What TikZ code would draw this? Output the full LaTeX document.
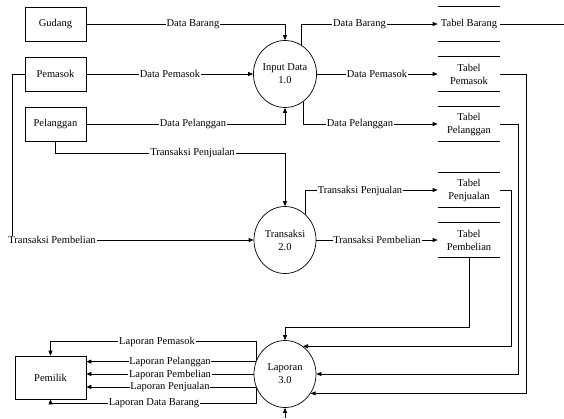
\documentclass[tikz,border=0pt]{standalone}
\usepackage{fontspec}
\setmainfont{Liberation Serif}
\usetikzlibrary{shapes.geometric,arrows.meta}
\begin{document}
\begin{tikzpicture}[x=1pt,y=-1pt,
  line width=0.7pt,
  txt/.style={font=\fontsize{10.5}{13}\selectfont},
  ent/.style={txt, draw, minimum width=61pt, minimum height=34pt, inner sep=0pt},
  proc/.style={txt, draw, ellipse, minimum width=62pt, minimum height=67pt, inner sep=0pt, align=center},
  store/.style={txt, minimum width=62pt, minimum height=34pt, inner sep=0pt, align=center},
  lbl/.style={txt, fill=white, inner sep=0.8pt},
  arr/.style={-{Triangle[length=5pt,width=4pt]}}]
\useasboundingbox (0,0) rectangle (564,418);

% external entities
\node[ent] (gudang) at (55.5,24) {Gudang};
\node[ent] (pemasok) at (55.5,74) {Pemasok};
\node[ent] (pelanggan) at (55.5,124) {Pelanggan};
\node[ent, minimum width=71pt, minimum height=43pt] (pemilik) at (50.5,377.5) {Pemilik};

% processes
\node[proc] (input) at (285,74) {Input Data\\1.0};
\node[proc] (transaksi) at (285,240) {Transaksi\\2.0};
\node[proc] (laporan) at (285,374) {Laporan\\3.0};

% data stores
\node[store] (tbarang) at (469,24) {Tabel Barang};
\node[store] (tpemasok) at (469,74) {Tabel\\Pemasok};
\node[store] (tpelanggan) at (469,124) {Tabel\\Pelanggan};
\node[store] (tpenjualan) at (469,190) {Tabel\\Penjualan};
\node[store] (tpembelian) at (469,240) {Tabel\\Pembelian};
\foreach \s in {tbarang,tpemasok,tpelanggan,tpenjualan,tpembelian}
  \draw (\s.north west) -- (\s.north east) (\s.south west) -- (\s.south east);

\coordinate (edgeR) at (564,24);
\coordinate (edgeB) at (285,418);

% flows into Input Data
\draw[arr] (gudang.east) -| (input.north);
\node[lbl] at (193,24) {Data Barang};
\draw[arr] (pemasok.east) -- (input.west);
\node[lbl] at (170,74) {Data Pemasok};
\draw[arr] (pelanggan.east) -| (input.south);
\node[lbl] at (193,124) {Data Pelanggan};

% flows out of Input Data
\draw[arr] (input.60) |- (tbarang.west);
\node[lbl] at (359.5,24) {Data Barang};
\draw[arr] (input.east) -- (tpemasok.west);
\node[lbl] at (377,74) {Data Pemasok};
\draw[arr] (input.-56) |- (tpelanggan.west);
\node[lbl] at (360,124) {Data Pelanggan};
\draw (tbarang.east) -- (edgeR);

% flows into Transaksi
\draw[arr] (pelanggan.south) -- ++(0,12) -| (transaksi.north);
\node[lbl] at (192.5,153) {Transaksi Penjualan};
\draw[arr] (pemasok.west) -- ++(-12,0) |- (transaksi.west);
\node[lbl] at (52,240) {Transaksi Pembelian};

% flows out of Transaksi
\draw[arr] (transaksi.52) |- (tpenjualan.west);
\node[lbl] at (360,191) {Transaksi Penjualan};
\draw[arr] (transaksi.east) -- (tpembelian.west);
\node[lbl] at (377,240) {Transaksi Pembelian};

% flows into Laporan
\draw[arr] (tpembelian.south) -- ++(0,70) -| (laporan.north);
\draw[arr] (tpenjualan.east) -- ++(11,0) |- (laporan.57);
\draw[arr] (tpelanggan.east) -- ++(18,0) |- (laporan.east);
\draw[arr] (tpemasok.east) -- ++(26,0) |- (laporan.-37);
\draw[arr] (edgeB) -- (laporan.south);

% flows out of Laporan
\draw[arr] (laporan.153) -- ++(0,-18) -| (pemilik.north);
\node[lbl] at (157,342) {Laporan Pemasok};
\draw[arr] (laporan.157.5) -- (laporan.157.5 -| pemilik.east);
\node[lbl] at (170,362) {Laporan Pelanggan};
\draw[arr] (laporan.west) -- (laporan.west -| pemilik.east);
\node[lbl] at (170,374.5) {Laporan Pembelian};
\draw[arr] (laporan.204.5) -- (laporan.204.5 -| pemilik.east);
\node[lbl] at (170,387) {Laporan Penjualan};
\draw[arr] (laporan.207) -- ++(0,15) -| (pemilik.south);
\node[lbl] at (154,403) {Laporan Data Barang};
\end{tikzpicture}
\end{document}
